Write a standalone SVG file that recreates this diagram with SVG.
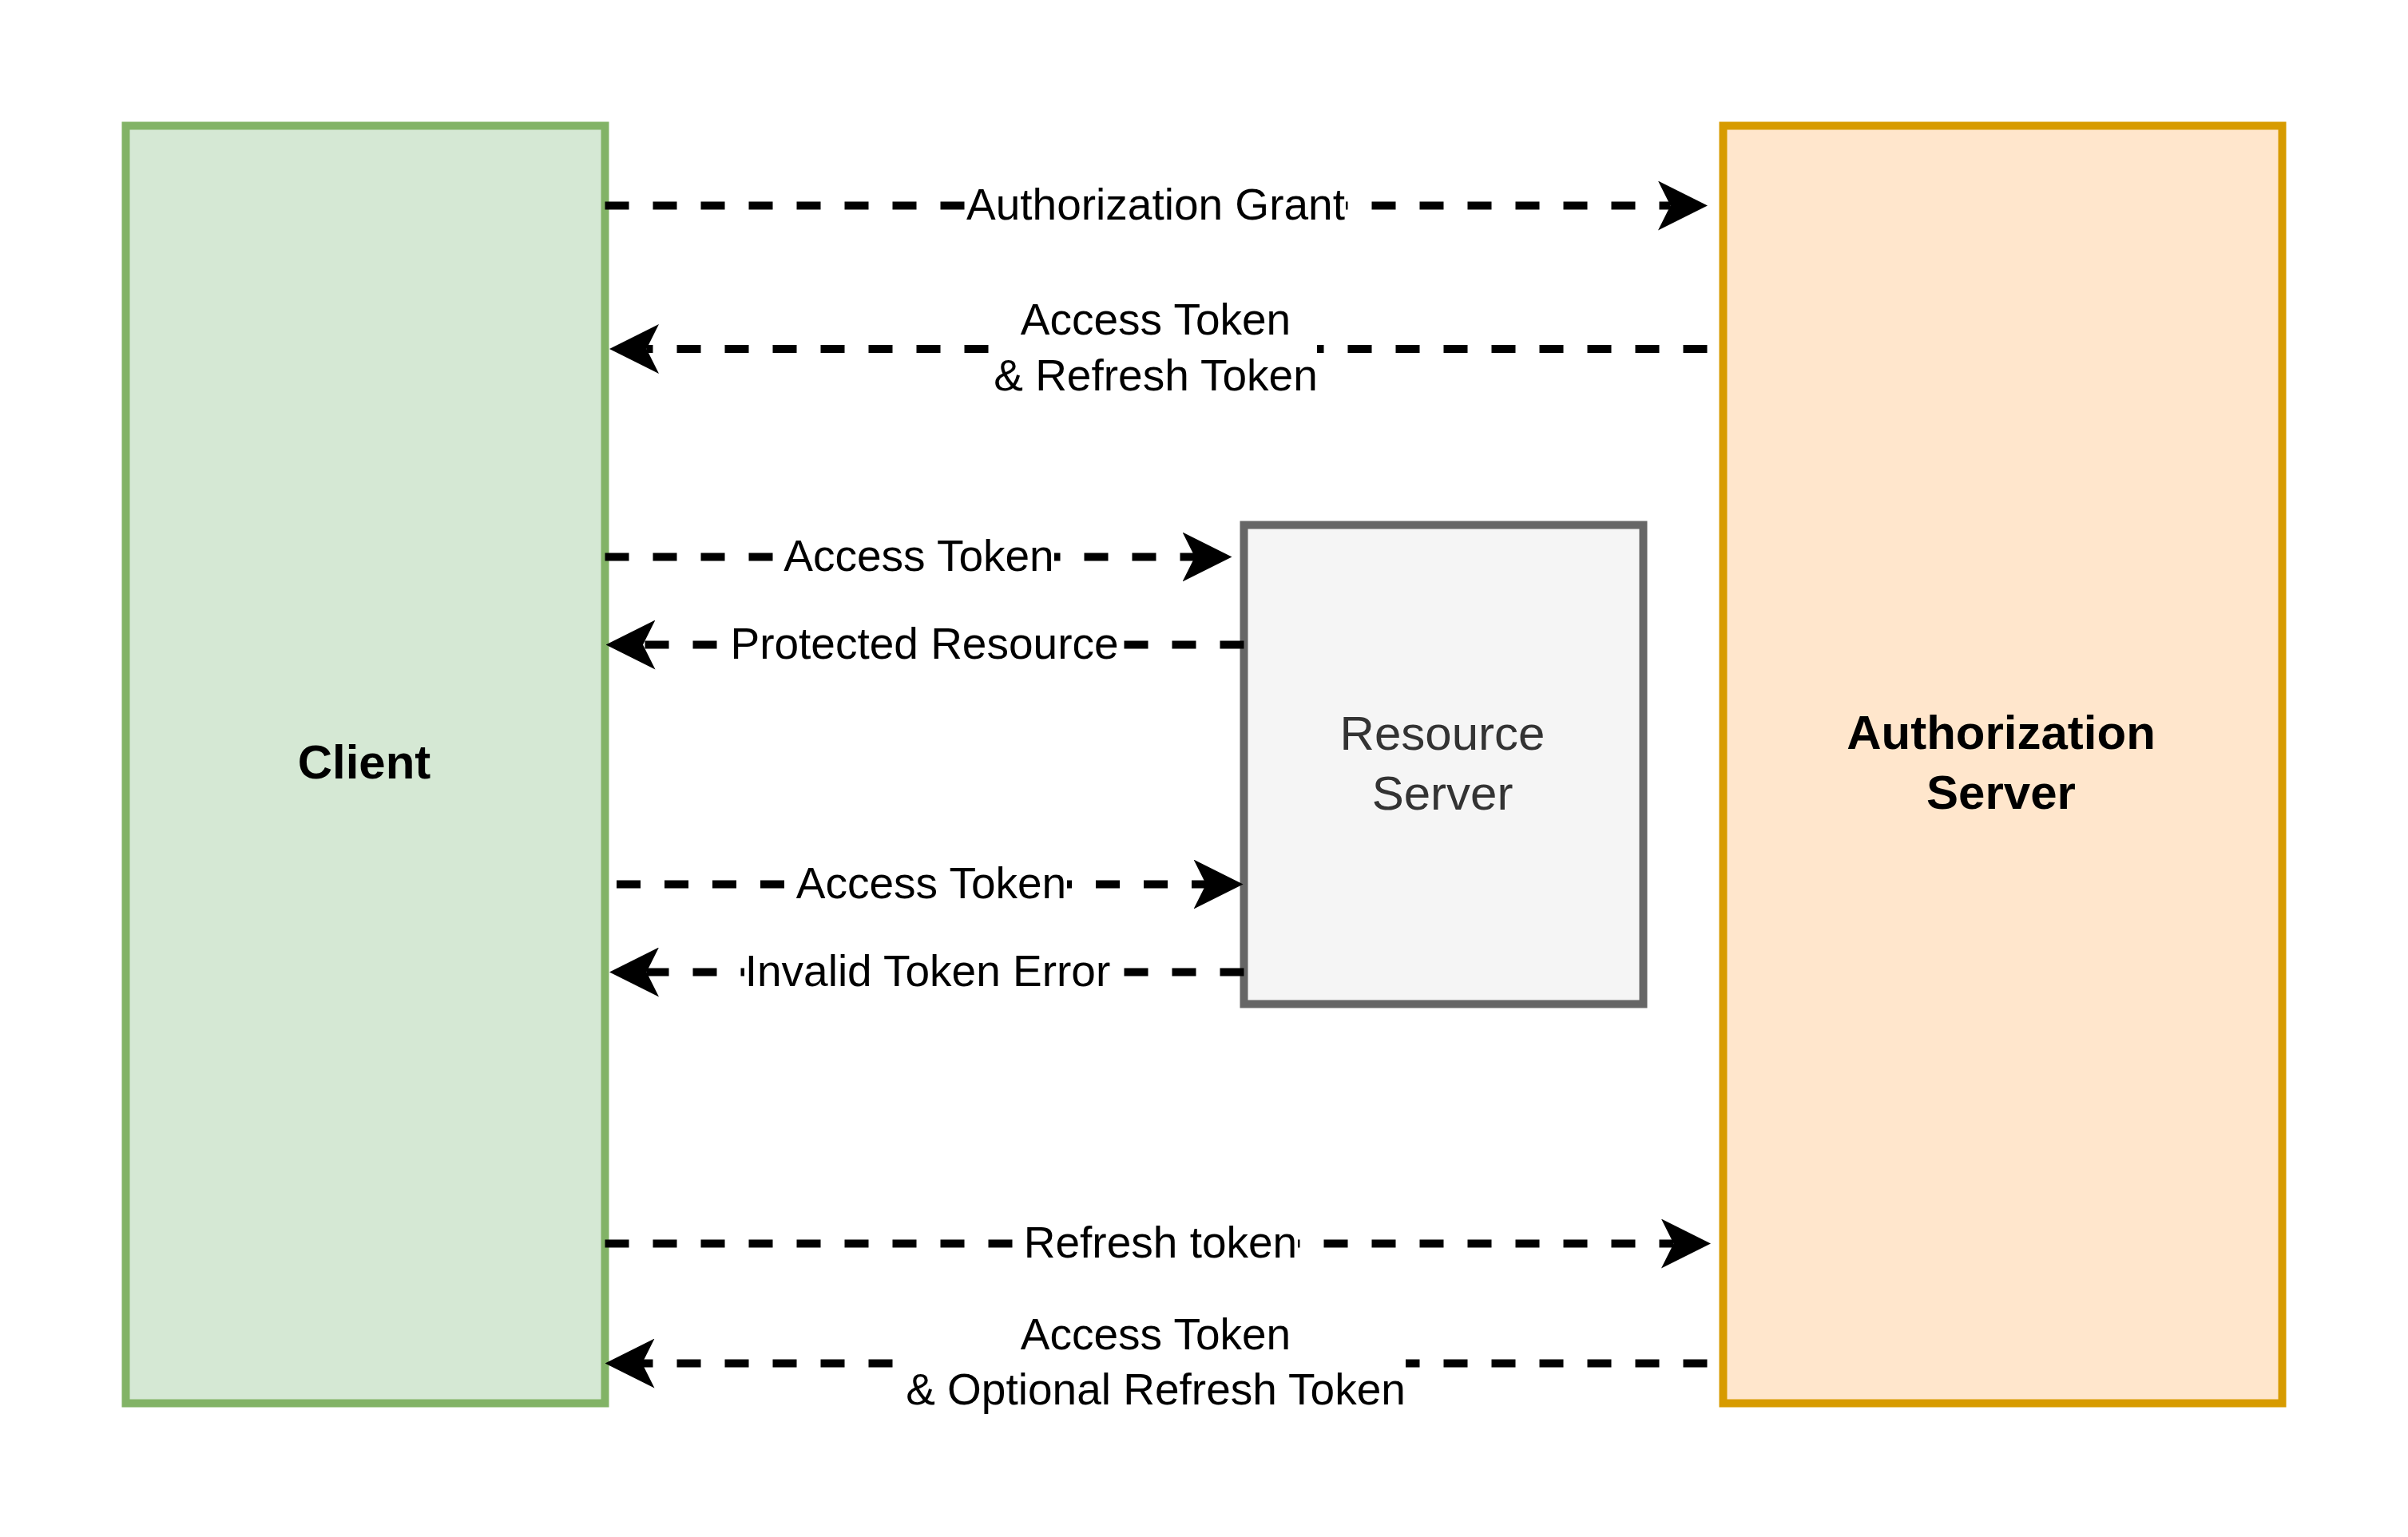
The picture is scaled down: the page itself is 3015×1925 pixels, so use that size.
<svg xmlns="http://www.w3.org/2000/svg" width="3015" height="1925" viewBox="0 0 3015 1925">
  <style>
    .node { stroke-width: 10; }
    .client { fill: #d5e8d4; stroke: #82b366; }
    .auth { fill: #ffe6cc; stroke: #d79b00; }
    .res { fill: #f5f5f5; stroke: #666666; }
    .ntext { font-family: "Liberation Sans", Arial, Helvetica, sans-serif; font-size: 60px; text-anchor: middle; }
    .bold { font-weight: bold; fill: #000000; }
    .grey { fill: #333333; }
    .edge { fill: none; stroke: #000000; stroke-width: 10; stroke-dasharray: 30 30; }
    .lbg { fill: #ffffff; stroke: none; }
    .ltext { font-family: "Liberation Sans", Arial, Helvetica, sans-serif; font-size: 55px; text-anchor: middle; fill: #000000; }
  </style>
  <defs>
    <marker id="arrow" markerUnits="userSpaceOnUse" viewBox="0 0 62 62" markerWidth="62" markerHeight="62" refX="15.5" refY="31" orient="auto">
      <path d="M0,0 L62,31 L0,62 L15.5,31 Z" fill="#000000"/>
    </marker>
  </defs>
  <rect width="3015" height="1925" fill="#ffffff"/>

  <g id="client">
    <rect class="node client" x="157.5" y="157.5" width="600" height="1600"/>
    <text class="ntext bold" x="456" y="975">Client</text>
  </g>

  <g id="authorization-server">
    <rect class="node auth" x="2157.5" y="157.5" width="700" height="1600"/>
    <text class="ntext bold" x="2505.5" y="938">Authorization</text>
    <text class="ntext bold" x="2505.5" y="1013">Server</text>
  </g>

  <g id="resource-server">
    <rect class="node res" x="1557.5" y="657.5" width="500" height="600"/>
    <text class="ntext grey" x="1806" y="939">Resource</text>
    <text class="ntext grey" x="1806" y="1014">Server</text>
  </g>

  <g id="connectors">
    <g id="e1">
      <path class="edge" d="M757.5,257.5 H2091.5" marker-end="url(#arrow)"/>
      <rect class="lbg" x="1209" y="225" width="476" height="66"/>
      <text class="ltext" x="1447" y="275">Authorization Grant</text>
    </g>
    <g id="e2">
      <path class="edge" d="M2137.5,437 H809.5" marker-end="url(#arrow)"/>
      <rect class="lbg" x="1245" y="368" width="404" height="138"/>
      <text class="ltext" x="1447" y="419">Access Token</text>
      <text class="ltext" x="1447" y="488.5">&amp; Refresh Token</text>
    </g>
    <g id="e3">
      <path class="edge" d="M757.5,697.5 H1496" marker-end="url(#arrow)"/>
      <rect class="lbg" x="981" y="665" width="339" height="66"/>
      <text class="ltext" x="1150.5" y="715">Access Token</text>
    </g>
    <g id="e4">
      <path class="edge" d="M1557.5,807.5 H805" marker-end="url(#arrow)"/>
      <rect class="lbg" x="915" y="775" width="485" height="66"/>
      <text class="ltext" x="1157.5" y="825">Protected Resource</text>
    </g>
    <g id="e5">
      <path class="edge" d="M772,1107.5 H1510" marker-end="url(#arrow)"/>
      <rect class="lbg" x="996" y="1075" width="340" height="66"/>
      <text class="ltext" x="1166" y="1125">Access Token</text>
    </g>
    <g id="e6">
      <path class="edge" d="M1557.5,1217.5 H809.5" marker-end="url(#arrow)"/>
      <rect class="lbg" x="932" y="1185" width="459" height="66"/>
      <text class="ltext" x="1161.5" y="1235">Invalid Token Error</text>
    </g>
    <g id="e7">
      <path class="edge" d="M757.5,1557.5 H2095.5" marker-end="url(#arrow)"/>
      <rect class="lbg" x="1282" y="1525" width="343" height="66"/>
      <text class="ltext" x="1453" y="1575">Refresh token</text>
    </g>
    <g id="e8">
      <path class="edge" d="M2137.5,1707.5 H804" marker-end="url(#arrow)"/>
      <rect class="lbg" x="1134" y="1638" width="626" height="138"/>
      <text class="ltext" x="1447" y="1689.5">Access Token</text>
      <text class="ltext" x="1447" y="1758.5">&amp; Optional Refresh Token</text>
    </g>
  </g>
</svg>
